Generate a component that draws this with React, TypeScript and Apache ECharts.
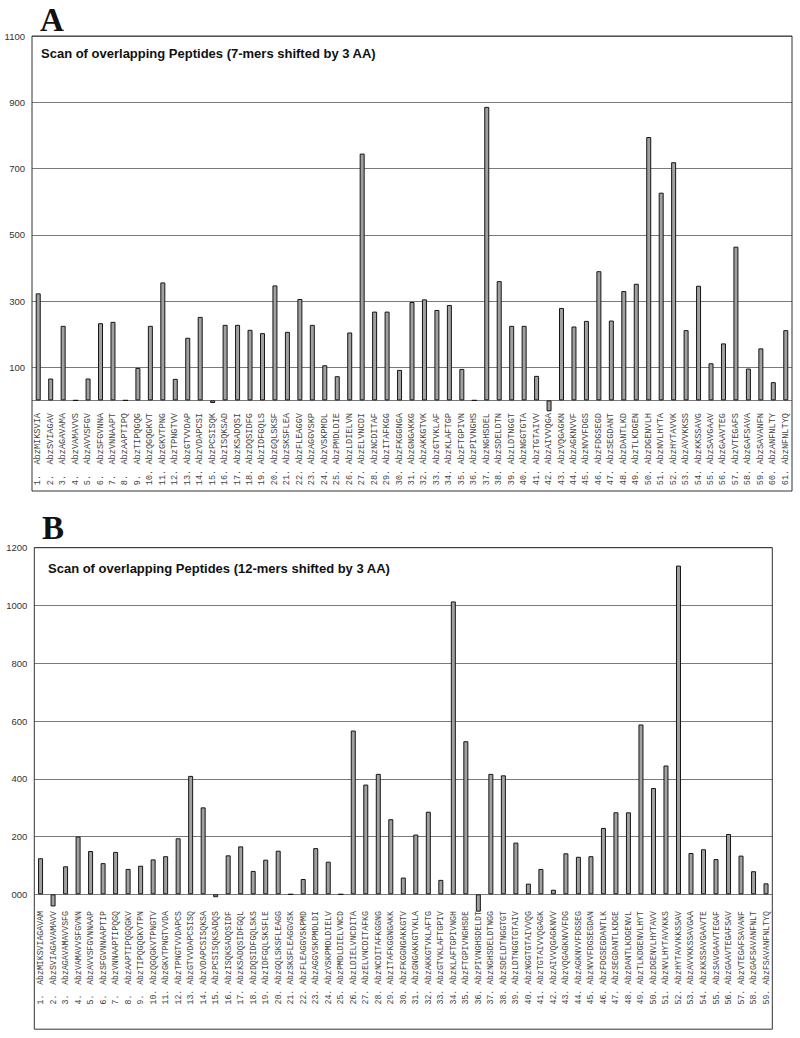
import React, { useEffect, useRef } from 'react';
import * as echarts from 'echarts';

// ---------- DATA ----------
const peptidesA = [
  'MIKSVIA', 'SVIAGAV', 'AGAVAMA', 'VAMAVVS', 'AVVSFGV', 'SFGVNNA', 'VNNAAPT', 'AAPTIPQ', 'TIPQGQG', 'QGQGKVT',
  'GKVTPNG', 'TPNGTVV', 'GTVVDAP', 'VDAPCSI', 'PCSISQK', 'ISQKSAD', 'KSADQSI', 'DQSIDFG', 'IDFGQLS', 'GQLSKSF',
  'SKSFLEA', 'FLEAGGV', 'AGGVSKP', 'VSKPMDL', 'PMDLDIE', 'LDIELVN', 'ELVNCDI', 'NCDITAF', 'ITAFKGG', 'FKGGNGA',
  'GNGAKKG', 'AKKGTVK', 'GTVKLAF', 'KLAFTGP', 'FTGPIVN', 'PIVNGHS', 'NGHSDEL', 'SDELDTN', 'LDTNGGT', 'NGGTGTA',
  'TGTAIVV', 'AIVVQGA', 'VQGAGKN', 'AGKNVVF', 'NVVFDGS', 'FDGSEGD', 'SEGDANT', 'DANTLKD', 'TLKDGEN', 'DGENVLH',
  'NVLHYTA', 'HYTAVVK', 'AVVKKSS', 'KKSSAVG', 'SAVGAAV', 'GAAVTEG', 'VTEGAFS', 'GAFSAVA', 'SAVANFN', 'ANFNLTY',
  'NFNLTYQ',
];
const valuesA = [
  323, 66, 225, 0, 66, 233, 237, 0, 98, 225,
  356, 65, 189, 252, -8, 228, 228, 213, 203, 347,
  207, 306, 228, 106, 73, 205, 745, 268, 268, 92,
  297, 305, 273, 288, 95, 0, 886, 360, 225, 225,
  74, -33, 279, 223, 240, 390, 241, 330, 352, 795,
  627, 719, 212, 346, 112, 172, 464, 96, 157, 55,
  212,
];
const peptidesB = [
  'MIKSVIAGAVAM', 'SVIAGAVAMAVV', 'AGAVAMAVVSFG', 'VAMAVVSFGVNN', 'AVVSFGVNNAAP', 'SFGVNNAAPTIP', 'VNNAAPTIPQGQ',
  'AAPTIPQGQGKV', 'TIPQGQGKVTPN', 'QGQGKVTPNGTV', 'GKVTPNGTVVDA', 'TPNGTVVDAPCS', 'GTVVDAPCSISQ', 'VDAPCSISQKSA',
  'PCSISQKSADQS', 'ISQKSADQSIDF', 'KSADQSIDFGQL', 'DQSIDFGQLSKS', 'IDFGQLSKSFLE', 'GQLSKSFLEAGG', 'SKSFLEAGGVSK',
  'FLEAGGVSKPMD', 'AGGVSKPMDLDI', 'VSKPMDLDIELV', 'PMDLDIELVNCD', 'LDIELVNCDITA', 'ELVNCDITAFKG', 'NCDITAFKGGNG',
  'ITAFKGGNGAKK', 'FKGGNGAKKGTV', 'GNGAKKGTVKLA', 'AKKGTVKLAFTG', 'GTVKLAFTGPIV', 'KLAFTGPIVNGH', 'FTGPIVNGHSDE',
  'PIVNGHSDELDT', 'NGHSDELDTNGG', 'SDELDTNGGTGT', 'LDTNGGTGTAIV', 'NGGTGTAIVVQG', 'TGTAIVVQGAGK', 'AIVVQGAGKNVV',
  'VQGAGKNVVFDG', 'AGKNVVFDGSEG', 'NVVFDGSEGDAN', 'FDGSEGDANTLK', 'SEGDANTLKDGE', 'DANTLKDGENVL', 'TLKDGENVLHYT',
  'DGENVLHYTAVV', 'NVLHYTAVVKKS', 'HYTAVVKKSSAV', 'AVVKKSSAVGAA', 'KKSSAVGAAVTE', 'SAVGAAVTEGAF', 'GAAVTEGAFSAV',
  'VTEGAFSAVANF', 'GAFSAVANFNLT', 'FSAVANFNLTYQ',
];
const valuesB = [
  125, -42, 97, 200, 150, 108, 147, 88, 99, 121,
  132, 194, 410, 301, -10, 135, 166, 81, 120, 151,
  0, 53, 160, 113, 0, 567, 380, 417, 260, 58,
  207, 286, 50, 1014, 530, -60, 417, 412, 179, 37,
  88, 16, 142, 130, 132, 230, 284, 284, 588, 368,
  446, 1138, 143, 156, 122, 209, 134, 80, 38,
];
const yTicksA = [100, 300, 500, 700, 900, 1100];
const yLinesA = [0, 100, 300, 500, 700, 900, 1100];
const yTicksB = [0, 200, 400, 600, 800, 1000, 1200];
const titleA = 'Scan of overlapping Peptides (7-mers shifted by 3 AA)';
const titleB = 'Scan of overlapping Peptides (12-mers shifted by 3 AA)';

const makeLabels = (peps: string[]) =>
  peps.map((p, i) => `${i + 1}.`.padEnd(4, ' ') + 'Abz' + p);

const categoriesA = makeLabels(peptidesA);
const categoriesB = makeLabels(peptidesB);

export default function App() {
  const ref = useRef<HTMLDivElement>(null);
  useEffect(() => {
    if (!ref.current) return;
    const chart = echarts.init(ref.current, undefined, { renderer: 'svg' });

    const gA = { left: 32, top: 36, width: 760, height: 397.5, outerBoundsMode: 'none', containLabel: false };
    const gB = { left: 34.3, top: 547.7, width: 738, height: 404.4, outerBoundsMode: 'none', containLabel: false };

    const yLabel = {
      fontFamily: 'Liberation Sans, Arial, sans-serif',
      fontSize: 9.5,
      color: '#333',
      margin: 7,
    };
    const xLabelBase = {
      interval: 0,
      rotate: 90,
      fontFamily: 'Liberation Mono, DejaVu Sans Mono, monospace',
      color: '#444',
    };
    const barStyle = { color: '#a0a0a0', borderColor: '#161616', borderWidth: 1 };
    const titleFont = { fontFamily: 'Liberation Sans, Arial, sans-serif', fontWeight: 'bold', fontSize: 13, color: '#111' };
    const letterFont = { fontFamily: 'Liberation Serif, serif', fontWeight: 'bold', fontSize: 33, color: '#111' };

    chart.setOption({
      animation: false,
      backgroundColor: '#ffffff',
      title: [
        { text: 'A', left: 40, top: 3, padding: 0, textStyle: letterFont },
        { text: titleA, left: 41, top: 47, padding: 0, textStyle: titleFont },
        { text: 'B', left: 42, top: 511, padding: 0, textStyle: letterFont },
        { text: titleB, left: 48, top: 562, padding: 0, textStyle: titleFont },
      ],
      grid: [gA, gB],
      xAxis: [
        {
          type: 'category', gridIndex: 0, data: categoriesA, position: 'bottom',
          axisLine: { show: false, onZero: false },
          axisTick: { show: false },
          axisLabel: { ...xLabelBase, fontSize: 8.6, margin: -20.5 },
        },
        {
          type: 'category', gridIndex: 1, data: categoriesB, position: 'bottom',
          axisLine: { show: false, onZero: false },
          axisTick: { show: false },
          axisLabel: { ...xLabelBase, fontSize: 8.2, margin: -41 },
        },
      ],
      yAxis: [
        {
          type: 'value', gridIndex: 0, min: -100, max: 1100,
          axisLine: { show: false },
          axisTick: { show: false, customValues: yLinesA },
          axisLabel: { ...yLabel, customValues: yTicksA, formatter: (v: number) => String(v) },
          splitLine: { show: true, lineStyle: { color: '#7a7a7a', width: 1 } },
        },
        {
          type: 'value', gridIndex: 1, min: -200, max: 1200,
          axisLine: { show: false },
          axisTick: { show: false, customValues: yTicksB },
          axisLabel: { ...yLabel, customValues: yTicksB, formatter: (v: number) => (v === 0 ? '000' : String(v)) },
          splitLine: { show: true, lineStyle: { color: '#7a7a7a', width: 1 } },
        },
      ],
      series: [
        { type: 'bar', xAxisIndex: 0, yAxisIndex: 0, data: valuesA, barWidth: 5, itemStyle: barStyle },
        { type: 'bar', xAxisIndex: 1, yAxisIndex: 1, data: valuesB, barWidth: 5, itemStyle: barStyle },
      ],
      graphic: [
        { type: 'rect', shape: { x: 32, y: 36, width: 760, height: 455 }, style: { fill: 'none', stroke: '#333', lineWidth: 1 }, z: 10 },
        { type: 'rect', shape: { x: 34.3, y: 547.7, width: 738, height: 481.5 }, style: { fill: 'none', stroke: '#333', lineWidth: 1 }, z: 10 },
      ],
    });
    return () => chart.dispose();
  }, []);
  return (
    <div
      ref={ref}
      style={{ position: 'absolute', left: 0, top: 0, width: 800, height: 1038 }}
    />
  );
}
